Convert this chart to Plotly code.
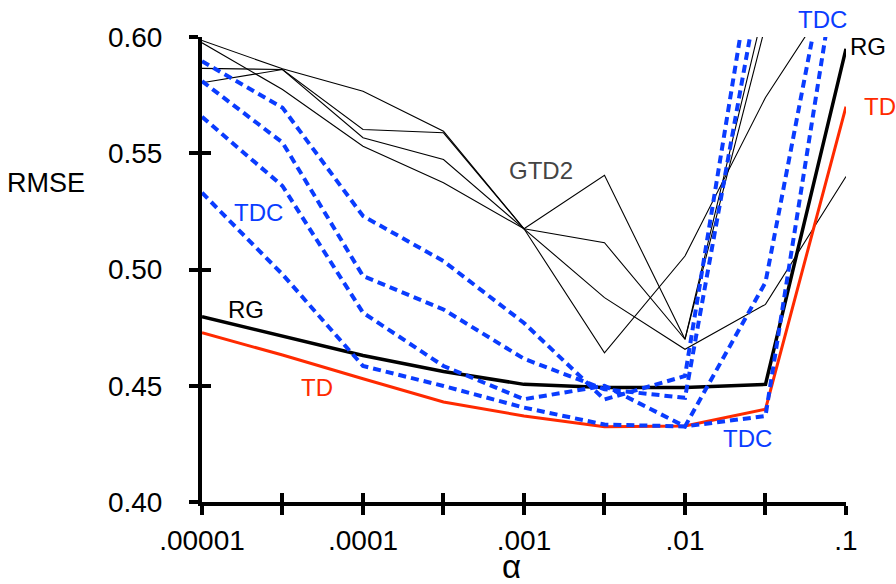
import plotly.graph_objects as go

# step sizes (alpha), half-decade grid
alpha = [1e-5, 3.162e-5, 1e-4, 3.162e-4, 1e-3, 3.162e-3, 1e-2, 3.162e-2, 1e-1]

# RMSE values
rg = [0.4797, 0.4715, 0.4630, 0.4561, 0.4506, 0.4492, 0.4492, 0.4506, 0.5949]
td = [0.4728, 0.4632, 0.4530, 0.4430, 0.4370, 0.4324, 0.4327, 0.4399, 0.5700]

tdc_1 = [0.5896, 0.5696, 0.5230, 0.5036, 0.4770, 0.4441, 0.4542, 0.667, 0.80]
tdc_2 = [0.5810, 0.5546, 0.4972, 0.4828, 0.4616, 0.4485, 0.4448, 0.637, 0.80]
tdc_3 = [0.5657, 0.5359, 0.4814, 0.4585, 0.4442, 0.4500, 0.4325, 0.4945, 0.675]
tdc_4 = [0.5330, 0.4979, 0.4585, 0.4499, 0.4406, 0.4333, 0.4325, 0.4370, 0.656]

gtd2_1 = [0.5985, 0.5863, 0.5767, 0.5595, 0.5175, 0.5405, 0.4700, 0.615, 0.75]
gtd2_2 = [0.5975, 0.5774, 0.5530, 0.5373, 0.5175, 0.5115, 0.4700, 0.605, 0.70]
gtd2_3 = [0.5865, 0.5860, 0.5602, 0.5588, 0.5175, 0.4879, 0.4657, 0.4850, 0.5400]
gtd2_4 = [0.5803, 0.5860, 0.5567, 0.5473, 0.5175, 0.4642, 0.5058, 0.5740, 0.627]

x_tickvals = [1e-5, 3.162e-5, 1e-4, 3.162e-4, 1e-3, 3.162e-3, 1e-2, 3.162e-2, 1e-1]
x_ticktext = [".00001", "", ".0001", "", ".001", "", ".01", "", ".1"]
y_tickvals = [0.40, 0.45, 0.50, 0.55, 0.60]
y_ticktext = ["0.40", "0.45", "0.50", "0.55", "0.60"]

BLUE = "#0a3cff"
RED = "#ff2a00"
FONT = "Liberation Sans, Arial, sans-serif"

fig = go.Figure()

for g in [gtd2_1, gtd2_2, gtd2_3, gtd2_4]:
    fig.add_trace(go.Scatter(x=alpha, y=g, mode="lines",
                             line=dict(color="black", width=1.1), showlegend=False,
                             hoverinfo="skip"))

fig.add_trace(go.Scatter(x=alpha, y=rg, mode="lines",
                         line=dict(color="black", width=3.5), showlegend=False))
fig.add_trace(go.Scatter(x=alpha, y=td, mode="lines",
                         line=dict(color=RED, width=3), showlegend=False))

for t in [tdc_1, tdc_2, tdc_3, tdc_4]:
    fig.add_trace(go.Scatter(x=alpha, y=t, mode="lines",
                             line=dict(color=BLUE, width=4, dash="8px,5px"),
                             showlegend=False))

# invisible trace to carry the overlay axes (inner halves of ticks)
fig.add_trace(go.Scatter(x=alpha, y=rg, mode="lines", xaxis="x2", yaxis="y2",
                         line=dict(color="rgba(0,0,0,0)", width=0),
                         showlegend=False, hoverinfo="skip"))

xr = [-5, -1]
yr = [0.40, 0.60]

fig.update_layout(
    width=896, height=584,
    margin=dict(l=202, r=50, t=37, b=82),
    paper_bgcolor="white", plot_bgcolor="white",
    font=dict(family=FONT, size=28, color="black"),
    xaxis=dict(type="log", range=xr, tickvals=x_tickvals, ticktext=x_ticktext,
               showgrid=False, zeroline=False, showline=True, linecolor="black",
               linewidth=4, ticks="outside", ticklen=9, tickwidth=4,
               tickcolor="black", ticklabelstandoff=1,
               tickfont=dict(size=28, family=FONT)),
    yaxis=dict(range=yr, tickvals=y_tickvals, ticktext=y_ticktext,
               showgrid=False, zeroline=False, showline=True, linecolor="black",
               linewidth=4, ticks="outside", ticklen=9, tickwidth=4,
               tickcolor="black", ticklabelstandoff=21,
               tickfont=dict(size=28, family=FONT)),
    xaxis2=dict(type="log", range=xr, overlaying="x", anchor="y2",
                tickvals=x_tickvals, ticks="inside", ticklen=9, tickwidth=4,
                tickcolor="black", showticklabels=False, showgrid=False,
                zeroline=False, showline=False),
    yaxis2=dict(range=yr, overlaying="y", anchor="x2",
                tickvals=y_tickvals, ticks="inside", ticklen=9, tickwidth=4,
                tickcolor="black", showticklabels=False, showgrid=False,
                zeroline=False, showline=False),
)

def label(text, x, y, color, size=24):
    fig.add_annotation(text=text, x=x, y=y, xref="paper", yref="paper",
                       showarrow=False, font=dict(family=FONT, size=size, color=color),
                       xanchor="center", yanchor="middle")

# helpers to convert pixel positions to paper fractions
L, R, T, B = 202, 846, 37, 502
def px(xp):
    return (xp - L) / (R - L)
def py(yp):
    return (B - yp) / (B - T)

label("TDC", px(258), py(212), BLUE)
label("GTD2", px(541), py(170), "#444444")
label("RG", px(246), py(309), "black")
label("TD", px(317), py(387), RED)
label("TDC", px(822), py(20), BLUE)
label("RG", px(868), py(46), "black")
label("TD", px(880), py(106), RED)
label("TDC", px(747), py(438), BLUE)
label("RMSE", px(46), py(183), "black", size=27)
label("α", px(511), py(566), "black", size=33)

fig.write_html("out.html")
